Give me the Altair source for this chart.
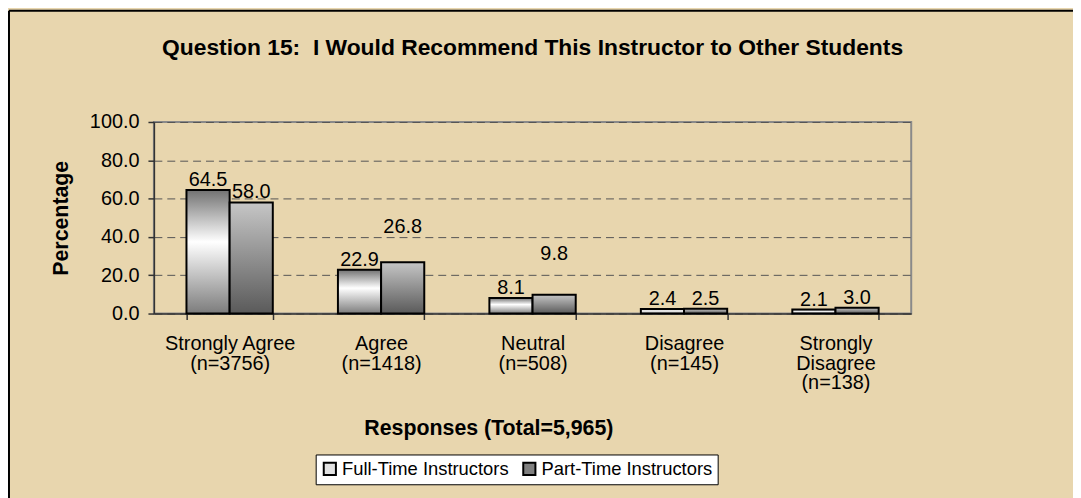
import altair as alt
import pandas as pd

# ---- data -------------------------------------------------------------
categories = [
    "Strongly Agree|(n=3756)",
    "Agree|(n=1418)",
    "Neutral|(n=508)",
    "Disagree|(n=145)",
    "Strongly|Disagree|(n=138)",
]
series = ["Full-Time Instructors", "Part-Time Instructors"]
full_time = [64.5, 22.9, 8.1, 2.4, 2.1]
part_time = [58.0, 26.8, 9.8, 2.5, 3.0]
y_ticks = [0, 20, 40, 60, 80, 100]

title_text = "Question 15:\u00a0 I Would Recommend This Instructor to Other Students"
x_title = "Responses (Total=5,965)"
y_title = "Percentage"

# data labels that were dragged upward in the original (percentage points)
label_lift = {
    (categories[1], series[1]): 13.0,
    (categories[2], series[1]): 16.0,
}

rows = []
for c, f, p in zip(categories, full_time, part_time):
    for s, v in ((series[0], f), (series[1], p)):
        rows.append({"category": c, "series": s, "value": v,
                     "label_y": v + label_lift.get((c, s), 0.0)})
df = pd.DataFrame(rows)

# ---- style ------------------------------------------------------------
FONT = "Liberation Sans"
BG = "#E8D6AE"

grad_full = alt.Gradient(
    gradient="linear", x1=0, x2=0, y1=0, y2=1,
    stops=[alt.GradientStop(color="#727272", offset=0),
           alt.GradientStop(color="#ffffff", offset=0.42),
           alt.GradientStop(color="#7c7c7c", offset=1)])
grad_part = alt.Gradient(
    gradient="linear", x1=0, x2=0, y1=0, y2=1,
    stops=[alt.GradientStop(color="#c6c6c6", offset=0),
           alt.GradientStop(color="#5a5a5a", offset=1)])

x_enc = alt.X(
    "category:N", sort=categories,
    scale=alt.Scale(paddingInner=0.43, paddingOuter=0.215),
    axis=alt.Axis(
        title=x_title, labelExpr="split(datum.label, '|')",
        labelAngle=0, labelFont=FONT, labelFontSize=20, labelColor="black",
        labelBaseline="top", labelPadding=14, labelLineHeight=20,
        tickBand="extent", tickSize=6, tickColor="#333", tickWidth=1.5,
        domainColor="#333", domainWidth=1.5,
        titleFont=FONT, titleFontSize=21.5, titleFontWeight="bold",
        titleColor="black", titleX=337, titleY=116,
        titleBaseline="middle", titleAlign="center", titleAnchor="start",
        grid=False))
xo_enc = alt.XOffset("series:N", sort=series,
                     scale=alt.Scale(domain=series, paddingInner=0, paddingOuter=0))
y_axis = alt.Axis(
    title=y_title, values=y_ticks, format=".1f",
    labelFont=FONT, labelFontSize=20, labelColor="black", labelPadding=9,
    tickSize=6, tickColor="#333", tickWidth=1.5,
    domainColor="#333", domainWidth=1.5,
    grid=True, gridColor="#555", gridDash=[8, 5], gridWidth=1,
    titleFont=FONT, titleFontSize=21.5, titleFontWeight="bold",
    titleColor="black", titleAngle=270, titleX=-93, titleY=96.5,
    titleBaseline="middle", titleAlign="center", titleAnchor="start")
y_scale = alt.Scale(domain=[0, 100], nice=False, zero=True)

base = alt.Chart(df)
one = alt.Chart(pd.DataFrame({"k": [0]}))

# outer chart border (only top and left edge fall inside the window)
frame_top = one.mark_rule(color="black", strokeWidth=2).encode(
    x=alt.value(-146), x2=alt.value(1100), y=alt.value(-112))
frame_left = one.mark_rule(color="black", strokeWidth=2).encode(
    x=alt.value(-146), y=alt.value(-112), y2=alt.value(600))

bars_full = base.transform_filter(alt.datum.series == series[0]).mark_bar(
    fill=grad_full, stroke="black", strokeWidth=2
).encode(x=x_enc, xOffset=xo_enc,
         y=alt.Y("value:Q", scale=y_scale, axis=y_axis))

bars_part = base.transform_filter(alt.datum.series == series[1]).mark_bar(
    fill=grad_part, stroke="black", strokeWidth=2
).encode(x=x_enc, xOffset=xo_enc,
         y=alt.Y("value:Q", scale=y_scale, axis=y_axis))

labels = base.mark_text(
    baseline="alphabetic", dy=-4, font=FONT, fontSize=20, color="black"
).encode(x=x_enc, xOffset=xo_enc,
         y=alt.Y("label_y:Q", scale=y_scale, axis=y_axis),
         text=alt.Text("value:Q", format=".1f"))

legend_layer = base.transform_filter("false").mark_square(
    opacity=1, stroke="black", strokeWidth=1.5
).encode(
    color=alt.Color(
        "series:N",
        scale=alt.Scale(domain=series, range=["#e2e2e2", "#808080"]),
        legend=alt.Legend(
            title=None, orient="none", legendX=163, legendY=335,
            direction="horizontal", labelFont=FONT, labelFontSize=18.5,
            labelColor="black", labelLimit=400, symbolType="square",
            symbolSize=150, symbolStrokeColor="black", symbolStrokeWidth=2,
            symbolOpacity=1, strokeColor="black", fillColor="white",
            padding=5, columnPadding=10, labelOffset=3, cornerRadius=0)))

chart = alt.layer(frame_top, frame_left, bars_full, bars_part, labels,
                  legend_layer).properties(
    width=763, height=193,
    title=alt.TitleParams(
        text=title_text, font=FONT, fontSize=23, fontWeight="bold",
        color="black", anchor="middle", frame="group", offset=-69,
        baseline="alphabetic"),
    autosize=alt.AutoSizeParams(type="none"),
    padding={"left": 147, "top": 113, "right": 163, "bottom": 184},
    background=BG,
).configure_view(
    fill="white", stroke="#8a8a8a", strokeWidth=2
)

chart.save("out.html", embed_options={"renderer": "svg", "actions": False})
